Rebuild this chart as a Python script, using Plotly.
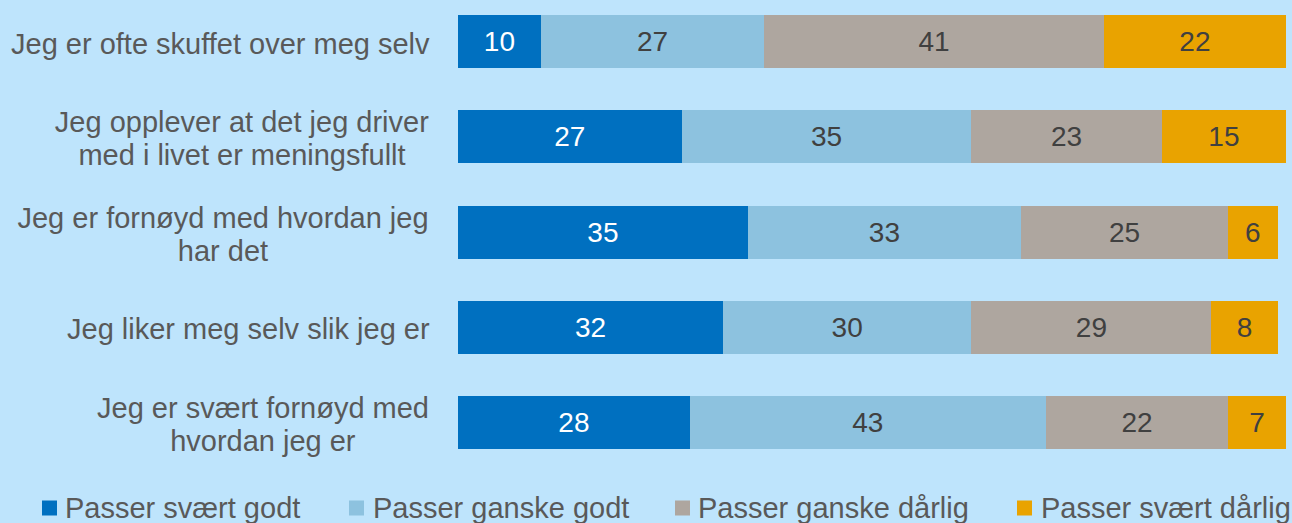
import plotly.graph_objects as go

statements = [
    ["Jeg er ofte skuffet over meg selv"],
    ["Jeg opplever at det jeg driver", "med i livet er meningsfullt"],
    ["Jeg er fornøyd med hvordan jeg", "har det"],
    ["Jeg liker meg selv slik jeg er"],
    ["Jeg er svært fornøyd med", "hvordan jeg er"],
]
series_names = [
    "Passer svært godt",
    "Passer ganske godt",
    "Passer ganske dårlig",
    "Passer svært dårlig",
]
svaert_godt = [10, 27, 35, 32, 28]
ganske_godt = [27, 35, 33, 30, 43]
ganske_darlig = [41, 23, 25, 29, 22]
svaert_darlig = [22, 15, 6, 8, 7]

series_values = [svaert_godt, ganske_godt, ganske_darlig, svaert_darlig]
colors = ["#0070C0", "#8DC2DF", "#AEA69F", "#E9A300"]
text_colors = ["#FFFFFF", "#404040", "#404040", "#404040"]

BG = "#BEE4FC"
LABEL_COLOR = "#595959"
FONT = "Liberation Sans, Arial, sans-serif"

W, H = 1292, 523
ML, MR, MT, MB = 458, 6, 0, 54
PLOT_W = W - ML - MR
PLOT_H = H - MT - MB

rows = list(range(len(statements)))

fig = go.Figure()
for name, vals, col, tcol in zip(series_names, series_values, colors, text_colors):
    fig.add_trace(go.Bar(
        y=rows,
        x=vals,
        name=name,
        orientation="h",
        width=0.556,
        marker=dict(color=col, line=dict(width=0)),
        text=[str(v) for v in vals],
        textposition="inside",
        insidetextanchor="middle",
        textangle=0,
        constraintext="none",
        textfont=dict(family=FONT, size=28, color=tcol),
        showlegend=False,
        hoverinfo="skip",
    ))

annotations = []

# Category labels: each line of a two-line label is centred inside a box
# whose right edge sits just left of the bars (box ~ widest line)
LABEL_GAP = 26
LINE_STEP = 33
block_widths = [None, 382, 420, None, 340]
for i, lines in enumerate(statements):
    n = len(lines)
    for j, line in enumerate(lines):
        offset = (j - (n - 1) / 2) * LINE_STEP
        ann = dict(
            x=0, xref="paper", y=i, yref="y",
            xanchor="right", yanchor="middle",
            xshift=-LABEL_GAP, yshift=-offset - 2,
            text=line, showarrow=False, align="center",
            font=dict(family=FONT, size=29, color=LABEL_COLOR),
        )
        if block_widths[i]:
            ann["width"] = block_widths[i]
            ann["xshift"] = -LABEL_GAP + 3
        annotations.append(ann)

# Legend built from small squares and labels along the bottom
legend_sq_x = [42, 349, 675, 1017]
legend_txt_x = [64, 372, 697, 1040]
legend_y = 508
SQ = 15
shapes = []
for name, col, sx, tx in zip(series_names, colors, legend_sq_x, legend_txt_x):
    shapes.append(dict(
        type="rect", xref="paper", yref="paper",
        x0=(sx - ML) / PLOT_W, x1=(sx + SQ - ML) / PLOT_W,
        y0=(H - MB - (legend_y + SQ / 2)) / PLOT_H,
        y1=(H - MB - (legend_y - SQ / 2)) / PLOT_H,
        fillcolor=col, line=dict(width=0),
    ))
    annotations.append(dict(
        x=(tx - ML) / PLOT_W, xref="paper",
        y=(H - MB - legend_y) / PLOT_H, yref="paper",
        xanchor="left", yanchor="middle",
        text=name, showarrow=False, borderpad=0,
        font=dict(family=FONT, size=29, color=LABEL_COLOR),
    ))

fig.update_layout(
    width=W, height=H,
    barmode="stack",
    paper_bgcolor=BG,
    plot_bgcolor=BG,
    margin=dict(l=ML, r=MR, t=MT, b=MB, pad=0),
    xaxis=dict(range=[0, 100], visible=False, fixedrange=True),
    yaxis=dict(range=[4.488, -0.436], visible=False, fixedrange=True),
    annotations=annotations,
    shapes=shapes,
    font=dict(family=FONT),
)

fig.write_html("out.html", config={"displayModeBar": False})
